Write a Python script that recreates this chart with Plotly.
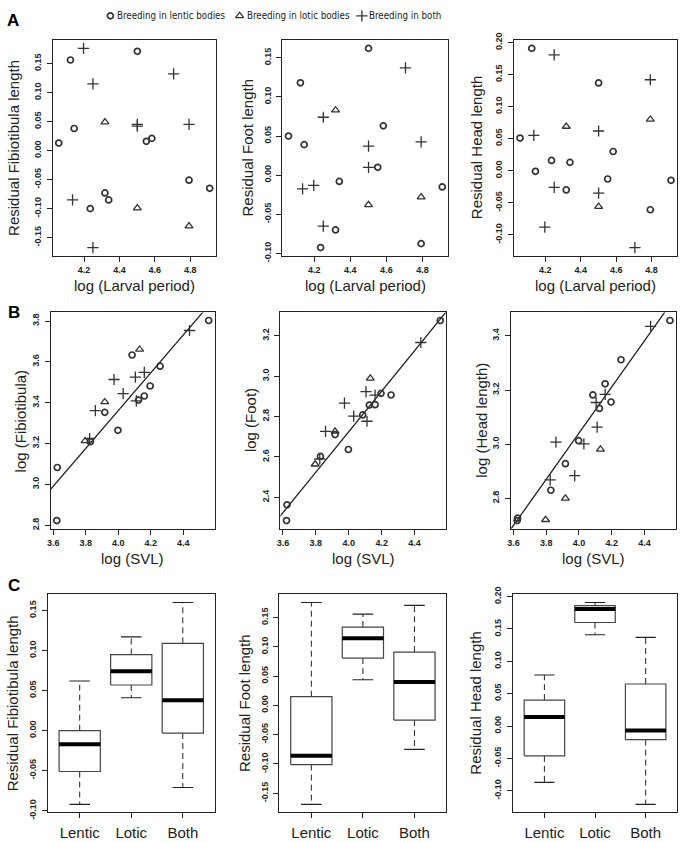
import plotly.graph_objects as go

W, H = 685, 843

# ---------------- DATA ----------------
# Panel A: residuals vs log(larval period)
larval_period = [4.057, 4.123, 4.135, 4.144, 4.197, 4.235, 4.250, 4.250, 4.318, 4.318, 4.339,
                 4.501, 4.501, 4.501, 4.501, 4.552, 4.583, 4.706, 4.793, 4.793, 4.793, 4.910]
group_A = ["lentic", "lentic", "both", "lentic", "both", "lentic", "both", "both", "lotic", "lentic", "lentic",
           "lentic", "both", "both", "lotic", "lentic", "lentic", "both", "both", "lotic", "lentic", "lentic"]
resid_fib_A = [0.013, 0.156, -0.085, 0.038, 0.176, -0.100, 0.115, -0.167, 0.049, -0.073, -0.085,
               0.171, 0.045, 0.042, -0.099, 0.016, 0.021, 0.132, 0.045, -0.130, -0.051, -0.065]
resid_foot_A = [0.050, 0.118, -0.0175, 0.039, -0.013, -0.0925, 0.074, -0.065, 0.083, -0.070, -0.008,
                0.162, 0.037, 0.010, -0.038, 0.010, 0.063, 0.137, 0.0425, -0.028, -0.0875, -0.015]
resid_head_A = [0.051, 0.191, 0.055, -0.001, -0.088, 0.016, 0.181, -0.026, 0.069, -0.030, 0.013,
                0.137, 0.062, -0.035, -0.056, -0.013, 0.030, -0.120, 0.142, 0.080, -0.061, -0.015]

# Panel B: log traits vs log(SVL)
log_svl = [3.622, 3.625, 3.796, 3.824, 3.828, 3.859, 3.917, 3.917, 3.974, 3.998, 4.030,
           4.085, 4.105, 4.111, 4.131, 4.125, 4.160, 4.160, 4.196, 4.257, 4.438, 4.556]
group_B = ["lentic", "lentic", "lotic", "both", "lentic", "both", "lotic", "lentic", "both", "lentic", "both",
           "lentic", "both", "both", "lotic", "lentic", "both", "lentic", "lentic", "lentic", "both", "lentic"]
log_fib = [2.823, 3.083, 3.213, 3.225, 3.209, 3.361, 3.404, 3.353, 3.514, 3.265, 3.445,
           3.634, 3.526, 3.409, 3.661, 3.413, 3.549, 3.433, 3.482, 3.579, 3.754, 3.803]
log_foot = [2.285, 2.363, 2.564, 2.590, 2.603, 2.727, 2.727, 2.711, 2.867, 2.637, 2.802,
            2.808, 2.924, 2.777, 2.989, 2.857, 2.906, 2.859, 2.915, 2.907, 3.167, 3.276]
log_head = [2.718, 2.727, 2.721, 2.868, 2.830, 3.008, 2.800, 2.928, 2.884, 3.013, 3.001,
            3.182, 3.154, 3.063, 2.981, 3.132, 3.184, 3.223, 3.156, 3.312, 3.435, 3.457]
# regression lines (intercept, slope)
fit_fib = (-0.342, 0.926)
fit_foot = (-1.287, 1.003)
fit_head = (-0.367, 0.852)

# Panel C: box-plot statistics per breeding habitat
box_cats = ["Lentic", "Lotic", "Both"]
fib_lo = [-0.092, 0.041, -0.071]
fib_q1 = [-0.051, 0.057, -0.003]
fib_med = [-0.017, 0.074, 0.038]
fib_q3 = [0.000, 0.095, 0.109]
fib_hi = [0.062, 0.117, 0.160]
foot_lo = [-0.169, 0.044, -0.075]
foot_q1 = [-0.101, 0.081, -0.025]
foot_med = [-0.086, 0.115, 0.040]
foot_q3 = [0.015, 0.134, 0.091]
foot_hi = [0.176, 0.156, 0.171]
head_lo = [-0.087, 0.141, -0.121]
head_q1 = [-0.046, 0.160, -0.021]
head_med = [0.014, 0.181, -0.007]
head_q3 = [0.040, 0.186, 0.065]
head_hi = [0.079, 0.191, 0.137]

# tick labels
ticks_larval = [4.2, 4.4, 4.6, 4.8]
ticks_svl = [3.6, 3.8, 4.0, 4.2, 4.4, 4.6]
ticks_res_fib = [-0.15, -0.10, -0.05, 0.00, 0.05, 0.10, 0.15]
ticks_res_foot = [-0.10, -0.05, 0.00, 0.05, 0.10, 0.15]
ticks_res_head = [-0.10, -0.05, 0.00, 0.05, 0.10, 0.15, 0.20]
ticks_log_fib = [2.8, 3.0, 3.2, 3.4, 3.6, 3.8]
ticks_log_foot = [2.4, 2.6, 2.8, 3.0, 3.2]
ticks_log_head = [2.8, 3.0, 3.2, 3.4]
ticks_box_fib = [-0.10, -0.05, 0.00, 0.05, 0.10, 0.15]
ticks_box_foot = [-0.15, -0.10, -0.05, 0.00, 0.05, 0.10, 0.15]
ticks_box_head = [-0.10, -0.05, 0.00, 0.05, 0.10, 0.15, 0.20]

legend_labels = {"lentic": "Breeding in lentic bodies",
                 "lotic": "Breeding in lotic bodies",
                 "both": "Breeding in both"}

# ---------------- STYLE ----------------
FONT = "Liberation Sans, Arial, Helvetica, sans-serif"
INK = "#222222"
PT = "#333333"
marker_style = {
    "lentic": dict(symbol="circle-open", size=6, color=PT, line=dict(width=1.7, color=PT)),
    "lotic": dict(symbol="triangle-up-open", size=7, color=PT, line=dict(width=1.3, color=PT)),
    "both": dict(symbol="cross-thin-open", size=8, color=PT, line=dict(width=1.3, color=PT)),
}

# panel boxes in pixels: (left, top, right, bottom)
boxes = [
    (49, 33, 213, 252), (280, 33, 447, 252), (513, 33, 677, 252),
    (47, 310, 212, 530), (278, 310, 445, 530), (510, 310, 676, 530),
    (44, 597, 212, 819), (277, 597, 445, 819), (512, 597, 677, 819),
]


def pad_range(vals, frac=0.04):
    lo, hi = min(vals), max(vals)
    d = (hi - lo) * frac
    return [lo - d, hi + d]


def fmt(v, nd):
    return f"{v:.{nd}f}"


fig = go.Figure()
layout = dict(width=W, height=H, margin=dict(l=0, r=0, t=0, b=0),
              paper_bgcolor="white", plot_bgcolor="white", showlegend=False,
              font=dict(family=FONT, color=INK))
annotations = []


def axis_common():
    return dict(showline=True, mirror=True, linecolor=INK, linewidth=1,
                ticks="outside", ticklen=5, tickwidth=1, tickcolor=INK,
                showgrid=False, zeroline=False, fixedrange=True,
                tickfont=dict(family=FONT, size=9, color=INK, weight="bold"))


def set_axes(i, xr, yr, xt, xtt, yt, ytt):
    l, t, r, b = boxes[i]
    n = "" if i == 0 else str(i + 1)
    xa = axis_common()
    xa.update(domain=[l / W, r / W], range=xr, tickvals=xt, ticktext=xtt,
              anchor="y" + n, ticklabelstandoff=1)
    ya = axis_common()
    ya.update(domain=[1 - b / H, 1 - t / H], range=yr, tickvals=yt, ticktext=ytt,
              anchor="x" + n, tickangle=-90, ticklabelstandoff=2)
    layout["xaxis" + n] = xa
    layout["yaxis" + n] = ya
    return "x" + n, "y" + n


def ytitle(i, text, xpx):
    l, t, r, b = boxes[i]
    annotations.append(dict(text=text, x=xpx / W, y=1 - (t + b) / 2 / H, xref="paper", yref="paper",
                            showarrow=False, textangle=-90, xanchor="center", yanchor="middle",
                            font=dict(family=FONT, size=15, color=INK)))


def xtitle(i, text, ypx):
    l, t, r, b = boxes[i]
    annotations.append(dict(text=text, x=(l + r) / 2 / W, y=1 - ypx / H, xref="paper", yref="paper",
                            showarrow=False, xanchor="center", yanchor="middle",
                            font=dict(family=FONT, size=15, color=INK)))


def scatter_groups(xs, ys, groups, xa, ya):
    for g in ["lentic", "lotic", "both"]:
        px = [x for x, gg in zip(xs, groups) if gg == g]
        py = [y for y, gg in zip(ys, groups) if gg == g]
        fig.add_trace(go.Scatter(x=px, y=py, mode="markers", marker=marker_style[g],
                                 name=legend_labels[g], xaxis=xa, yaxis=ya, cliponaxis=False))


# ---- Row A ----
xr_A = pad_range(larval_period)
xt_A = [fmt(v, 1) for v in ticks_larval]
A_sets = [(resid_fib_A, ticks_res_fib, "Residual Fibiotibula length", 10),
          (resid_foot_A, ticks_res_foot, "Residual Foot length", 245),
          (resid_head_A, ticks_res_head, "Residual Head length", 476)]
for k, (ys, yt, title, tx) in enumerate(A_sets):
    xa, ya = set_axes(k, xr_A, pad_range(ys), ticks_larval, xt_A, yt, [fmt(v, 2) for v in yt])
    scatter_groups(larval_period, ys, group_A, xa, ya)
    ytitle(k, title, tx)
    xtitle(k, "log (Larval period)", 283)

# ---- Row B ----
xr_B = pad_range(log_svl)
xt_B = [fmt(v, 1) for v in ticks_svl]
B_sets = [(log_fib, fit_fib, ticks_log_fib, "log (Fibiotibula)", 17),
          (log_foot, fit_foot, ticks_log_foot, "log (Foot)", 248),
          (log_head, fit_head, ticks_log_head, "log (Head length)", 480)]
for k, (ys, fit, yt, title, tx) in enumerate(B_sets):
    i = 3 + k
    xa, ya = set_axes(i, xr_B, pad_range(ys), ticks_svl, xt_B, yt, [fmt(v, 1) for v in yt])
    a, b = fit
    lx = [xr_B[0] - 0.1, xr_B[1] + 0.1]
    fig.add_trace(go.Scatter(x=lx, y=[a + b * v for v in lx], mode="lines",
                             line=dict(color=INK, width=1.3), xaxis=xa, yaxis=ya))
    scatter_groups(log_svl, ys, group_B, xa, ya)
    ytitle(i, title, tx)
    xtitle(i, "log (SVL)", 560)

# ---- Row C ----
C_sets = [(fib_lo, fib_q1, fib_med, fib_q3, fib_hi, ticks_box_fib, "Residual Fibiotibula length", 8),
          (foot_lo, foot_q1, foot_med, foot_q3, foot_hi, ticks_box_foot, "Residual Foot length", 242),
          (head_lo, head_q1, head_med, head_q3, head_hi, ticks_box_head, "Residual Head length", 474)]
pos = [1, 2, 3]
for k, (lo, q1, med, q3, hi, yt, title, tx) in enumerate(C_sets):
    i = 6 + k
    xr = pad_range([0.5, len(box_cats) + 0.5])
    xa, ya = set_axes(i, xr, pad_range(lo + hi), pos, box_cats, yt, [fmt(v, 2) for v in yt])
    layout["xaxis" + str(i + 1)]["tickfont"] = dict(family=FONT, size=15, color=INK)
    layout["xaxis" + str(i + 1)]["ticklabelstandoff"] = 2
    hw, cw = 0.4, 0.2
    for p, a0, b1, m, b3, a4 in zip(pos, lo, q1, med, q3, hi):
        # whiskers (dashed)
        fig.add_trace(go.Scatter(x=[p, p, None, p, p], y=[b1, a0, None, b3, a4], mode="lines",
                                 line=dict(color=INK, width=1, dash="6px,4px"), xaxis=xa, yaxis=ya))
        # staples
        fig.add_trace(go.Scatter(x=[p - cw, p + cw, None, p - cw, p + cw], y=[a0, a0, None, a4, a4],
                                 mode="lines", line=dict(color=INK, width=1.1), xaxis=xa, yaxis=ya))
        # box
        fig.add_trace(go.Scatter(x=[p - hw, p + hw, p + hw, p - hw, p - hw], y=[b1, b1, b3, b3, b1],
                                 mode="lines", fill="toself", fillcolor="white",
                                 line=dict(color="#444444", width=1.2), xaxis=xa, yaxis=ya))
        # median
        fig.add_trace(go.Scatter(x=[p - hw, p + hw], y=[m, m], mode="lines",
                                 line=dict(color="black", width=4), xaxis=xa, yaxis=ya))
    ytitle(i, title, tx)

# ---- panel letters ----
for letter, (lx, ly) in zip(["A", "B", "C"], [(9, 13), (10, 310), (10, 588)]):
    annotations.append(dict(text="<b>%s</b>" % letter, x=lx / W, y=1 - ly / H, xref="paper", yref="paper",
                            showarrow=False, xanchor="center", yanchor="middle",
                            font=dict(family=FONT, size=17, color="black")))

# ---- legend (top strip, using a hidden pixel-scaled axis) ----
LEG_H = 16
layout["xaxis10"] = dict(domain=[0, 1], range=[0, W], visible=False, anchor="y10", fixedrange=True)
layout["yaxis10"] = dict(domain=[1 - LEG_H / H, 1], range=[LEG_H, 0], visible=False, anchor="x10",
                         fixedrange=True)
leg_key_x = {"lentic": 107, "lotic": 237, "both": 360}
for g in ["lentic", "lotic", "both"]:
    ms = dict(marker_style[g])
    fig.add_trace(go.Scatter(x=[leg_key_x[g]], y=[8], mode="markers", marker=ms,
                             xaxis="x10", yaxis="y10", cliponaxis=False, hoverinfo="skip"))
    annotations.append(dict(text=legend_labels[g], x=(leg_key_x[g] + 5) / W, y=1 - 8 / H,
                            xref="paper", yref="paper", showarrow=False,
                            xanchor="left", yanchor="middle",
                            font=dict(family="DejaVu Sans Condensed, Liberation Sans Narrow, Liberation Sans, sans-serif",
                                      size=9.7, color=INK)))

layout["annotations"] = annotations
fig.update_layout(**layout)
fig.write_html("out.html", config={"displayModeBar": False},
               post_script="document.body.style.margin='0';document.body.style.overflow='hidden';")
